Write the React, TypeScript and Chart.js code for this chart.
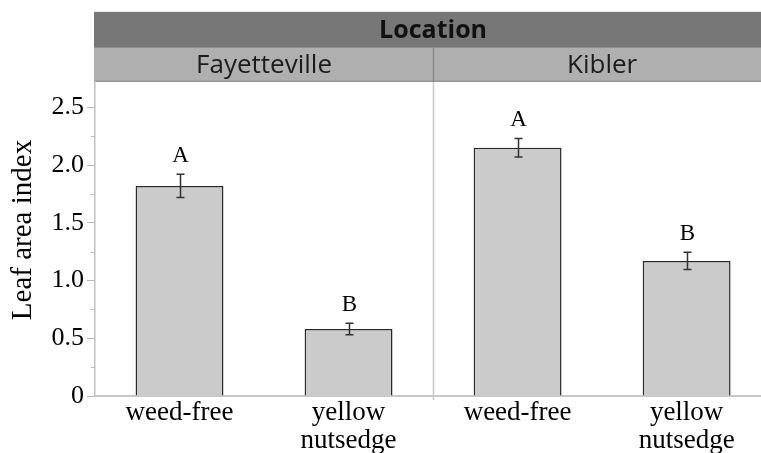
import React, { useEffect, useRef } from 'react';
import { Chart, registerables } from 'chart.js';

Chart.register(...registerables);

// ---- data ----
const facetTitle = 'Location';
const locations = ['Fayetteville', 'Kibler'];
const locationSpans = [[0, 2], [2, 4]];
const xPositions = [0.5, 1.5, 2.5, 3.5];
const xLabels: (string | string[])[] = ['weed-free', ['yellow', 'nutsedge'], 'weed-free', ['yellow', 'nutsedge']];
const lai = [1.82, 0.58, 2.15, 1.17];
const laiSE = [0.10, 0.05, 0.08, 0.075];
const letters = ['A', 'B', 'A', 'B'];
const yTicks = [0, 0.5, 1.0, 1.5, 2.0, 2.5];
const yTickLabels = ['0', '0.5', '1.0', '1.5', '2.0', '2.5'];
const yMinorTicks = [0.25, 0.75, 1.25, 1.75, 2.25];
const yAxisTitle = 'Leaf area index';

const SERIF = '"Liberation Serif", "Times New Roman", serif';
const SANS = '"Open Sans", "Noto Sans", sans-serif';

const facetPlugin = {
  id: 'facetPlugin',
  beforeDraw(chart: any) {
    const { ctx, chartArea } = chart;
    const xs = chart.scales.x;
    const top = chartArea.top;
    const bandH = 35;
    const left = chartArea.left - 1;
    const right = chart.width;
    ctx.save();
    // dark band
    ctx.fillStyle = '#777777';
    ctx.fillRect(left, top - 2 * bandH, right - left, bandH);
    // light band
    ctx.fillStyle = '#afafaf';
    ctx.fillRect(left, top - bandH, right - left, bandH);
    // thin lines
    ctx.fillStyle = '#e6e6e6';
    ctx.fillRect(left, top - 2 * bandH - 1, right - left, 1);
    ctx.fillStyle = '#8e8e8e';
    ctx.fillRect(left, top - bandH, right - left, 1);
    ctx.fillStyle = '#969696';
    ctx.fillRect(left, top - 1.5, right - left, 1.5);

    // titles
    ctx.fillStyle = '#111111';
    ctx.textAlign = 'center';
    ctx.textBaseline = 'middle';
    ctx.font = `bold 25px ${SANS}`;
    const c0 = (xs.getPixelForValue(0) + xs.getPixelForValue(4)) / 2;
    ctx.fillText(facetTitle, c0, top - 1.5 * bandH + 1);
    ctx.font = `26px ${SANS}`;
    ctx.fillStyle = '#1c1c1c';
    locations.forEach((loc, i) => {
      const [a, b] = locationSpans[i];
      const cx = (xs.getPixelForValue(a) + xs.getPixelForValue(b)) / 2;
      ctx.fillText(loc, cx, top - 0.5 * bandH + 1);
    });

    // divider between panels
    const dx = Math.round(xs.getPixelForValue(2)) + 0.5;
    ctx.strokeStyle = '#8a8a8a';
    ctx.lineWidth = 1.5;
    ctx.beginPath();
    ctx.moveTo(dx, top - bandH);
    ctx.lineTo(dx, top);
    ctx.stroke();
    ctx.strokeStyle = '#c8c8c8';
    ctx.beginPath();
    ctx.moveTo(dx, top);
    ctx.lineTo(dx, chartArea.bottom + 4);
    ctx.stroke();

    // minor y ticks
    const ys = chart.scales.y;
    ctx.strokeStyle = '#b8b8b8';
    ctx.lineWidth = 1;
    yMinorTicks.forEach((v) => {
      const py = Math.round(ys.getPixelForValue(v)) + 0.5;
      ctx.beginPath();
      ctx.moveTo(chartArea.left - 4, py);
      ctx.lineTo(chartArea.left, py);
      ctx.stroke();
    });

    // y axis title
    ctx.save();
    ctx.translate(23, (chartArea.top + chartArea.bottom) / 2 - 9);
    ctx.rotate(-Math.PI / 2);
    ctx.fillStyle = '#000';
    ctx.font = `29px ${SERIF}`;
    ctx.textAlign = 'center';
    ctx.textBaseline = 'middle';
    ctx.fillText(yAxisTitle, 0, 0);
    ctx.restore();
    ctx.restore();
  },
  afterDatasetsDraw(chart: any) {
    const { ctx } = chart;
    const xs = chart.scales.x;
    const ys = chart.scales.y;
    ctx.save();
    ctx.strokeStyle = '#333333';
    ctx.lineWidth = 1.5;
    ctx.fillStyle = '#000000';
    ctx.font = `23px ${SERIF}`;
    ctx.textAlign = 'center';
    ctx.textBaseline = 'alphabetic';
    lai.forEach((v, i) => {
      const px = Math.round(xs.getPixelForValue(xPositions[i])) + 0.5;
      const yt = ys.getPixelForValue(v + laiSE[i]);
      const yb = ys.getPixelForValue(v - laiSE[i]);
      ctx.beginPath();
      ctx.moveTo(px, yt);
      ctx.lineTo(px, yb);
      ctx.moveTo(px - 4, yt);
      ctx.lineTo(px + 4, yt);
      ctx.moveTo(px - 4, yb);
      ctx.lineTo(px + 4, yb);
      ctx.stroke();
      ctx.fillText(letters[i], px, yt - 12.5);
    });
    ctx.restore();
  },
};

export default function App() {
  const ref = useRef<HTMLCanvasElement | null>(null);
  useEffect(() => {
    document.body.style.margin = '0';
    const canvas = ref.current!;
    const chart = new Chart(canvas, {
      type: 'bar',
      data: {
        datasets: [
          {
            data: lai.map((v, i) => ({ x: xPositions[i], y: v })),
            backgroundColor: '#cbcbcb',
            borderColor: '#2a2a2a',
            borderWidth: 1.5,
            borderSkipped: 'bottom',
            categoryPercentage: 1,
            barPercentage: 0.52,
          },
        ],
      },
      options: {
        responsive: false,
        animation: false,
        devicePixelRatio: 1,
        layout: { padding: { top: 82, left: 0, right: 0, bottom: 0 } },
        plugins: { legend: { display: false }, tooltip: { enabled: false } },
        scales: {
          x: {
            type: 'linear',
            min: 0,
            max: 3.94,
            offset: false,
            afterBuildTicks: (s: any) => {
              s.ticks = xPositions.map((v) => ({ value: v }));
            },
            afterFit: (s: any) => {
              s.height = 57;
            },
            ticks: {
              autoSkip: false,
              maxRotation: 0,
              minRotation: 0,
              padding: 2,
              color: '#000',
              font: { family: SERIF, size: 27, lineHeight: 1.07 },
              callback: (_v: any, i: number) => xLabels[i],
            },
            grid: { drawOnChartArea: false, drawTicks: false, offset: false },
            border: { color: '#c8c8c8', width: 2 },
          },
          y: {
            min: 0,
            max: 2.72,
            afterFit: (s: any) => {
              s.width = 95;
            },
            ticks: {
              stepSize: 0.5,
              includeBounds: false,
              padding: 3,
              color: '#000',
              font: { family: SERIF, size: 26 },
              callback: (v: any) => {
                const i = yTicks.findIndex((t) => Math.abs(t - v) < 1e-6);
                return i >= 0 ? yTickLabels[i] : '';
              },
            },
            grid: { drawOnChartArea: false, tickLength: 8, tickColor: '#b8b8b8', color: '#b8b8b8' },
            border: { color: '#c0c0c0', width: 1.5 },
            title: { display: false },
          },
        },
      },
      plugins: [facetPlugin],
    } as any);
    return () => chart.destroy();
  }, []);
  return (
    <div style={{ position: 'fixed', left: 0, top: 0, width: 761, height: 453, background: '#fff' }}>
      <canvas ref={ref} width={761} height={453} style={{ display: 'block' }} />
    </div>
  );
}
